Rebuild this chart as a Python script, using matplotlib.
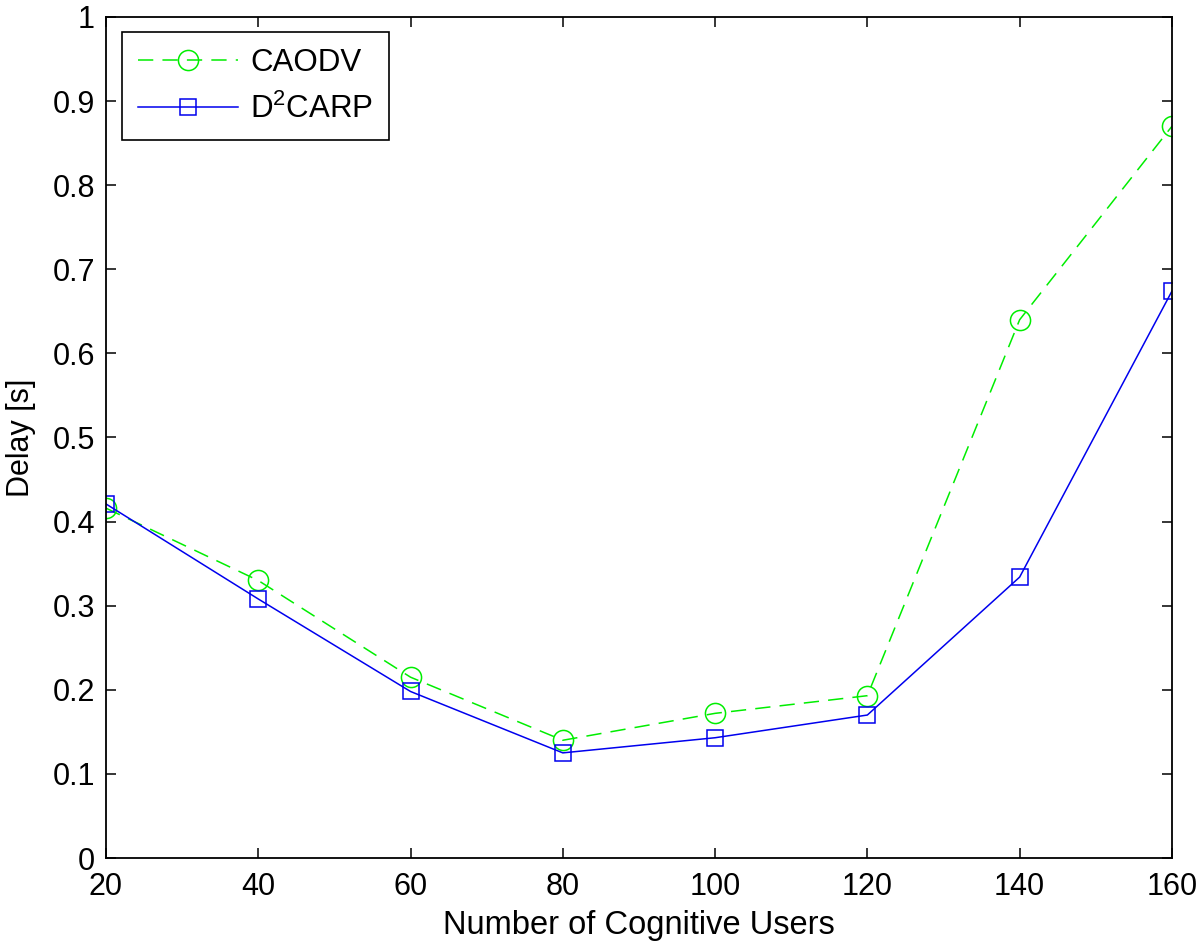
import numpy as np
import matplotlib.pyplot as plt

users = [20, 40, 60, 80, 100, 120, 140, 160]
caodv = [0.416, 0.330, 0.215, 0.140, 0.172, 0.193, 0.640, 0.870]
d2carp = [0.421, 0.308, 0.198, 0.125, 0.143, 0.170, 0.334, 0.674]
yticklabels = ['0', '0.1', '0.2', '0.3', '0.4', '0.5', '0.6', '0.7', '0.8', '0.9', '1']

plt.rcParams['font.family'] = ['Liberation Sans', 'DejaVu Sans']
plt.rcParams['mathtext.fontset'] = 'custom'
plt.rcParams['mathtext.rm'] = 'Liberation Sans'

fig = plt.figure(figsize=(12, 9.44), dpi=100)
ax = fig.add_axes([0.0883, 0.0911, 0.8883, 0.8909])

ax.plot(users, caodv, '--o', color='#00ee00', lw=1.1, ms=14.5, mfc='none',
        mew=1.1, dashes=(10, 6), label='CAODV')
ax.plot(users, d2carp, '-s', color='#0000ee', lw=1.1, ms=12, mfc='none',
        mew=1.1, label='D$^\\mathregular{2}$CARP')

ax.set_xlim(20, 160)
ax.set_ylim(0, 1)
ax.set_xticks(np.arange(20, 161, 20))
ax.set_yticks(np.arange(0, 1.01, 0.1))
ax.set_yticklabels(yticklabels)
for s in ax.spines.values():
    s.set_linewidth(1.3)
ax.tick_params(direction='in', top=True, right=True, labelsize=22, length=7, width=1.1)
ax.tick_params(axis='x', pad=10)
ax.tick_params(axis='y', pad=8)
ax.set_xlabel('Number of Cognitive Users', fontsize=23.5, labelpad=6)
ax.set_ylabel('Delay [s]', fontsize=22, labelpad=12)

leg = ax.legend(loc='upper left', bbox_to_anchor=(0.015, 0.982), borderaxespad=0,
                fontsize=22.5, fancybox=False, edgecolor='black', framealpha=1,
                handlelength=3.2, handletextpad=0.4, labelspacing=0.5, borderpad=0.5)
leg.get_frame().set_linewidth(1.2)

fig.savefig('out.png')
